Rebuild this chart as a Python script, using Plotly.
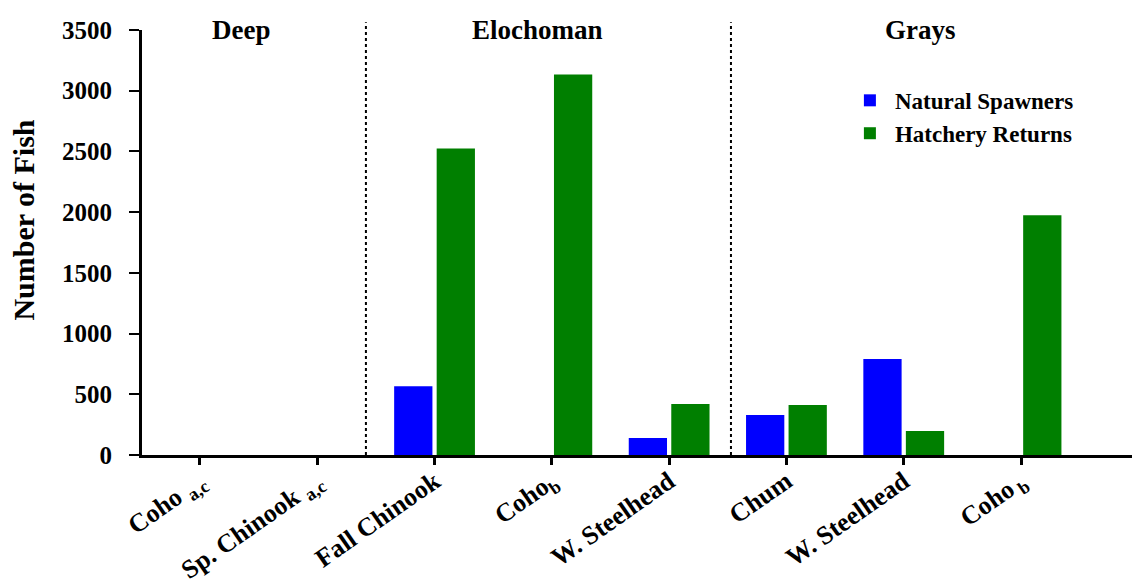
import plotly.graph_objects as go

# ---- data ----
categories = ["Coho <sub>a,c</sub>", "Sp. Chinook <sub>a,c</sub>", "Fall Chinook", "Coho<sub>b</sub>",
              "W. Steelhead", "Chum", "W. Steelhead", "Coho<sub> b</sub>"]
natural_spawners = [0, 0, 567, 0, 140, 329, 790, 0]
hatchery_returns = [0, 0, 2525, 3133, 419, 411, 197, 1974]
groups = ["Deep", "Elochoman", "Grays"]
group_label_pos = [0.35, 2.88, 6.14]
dividers = [1.415, 4.527]
y_ticks = [0, 500, 1000, 1500, 2000, 2500, 3000, 3500]

FONT = "Liberation Serif, Times New Roman, serif"
xs = list(range(len(categories)))

fig = go.Figure()
fig.add_trace(go.Bar(x=xs, y=natural_spawners, name="Natural Spawners",
                     marker=dict(color="#0000ff", line=dict(width=0))))
fig.add_trace(go.Bar(x=xs, y=hatchery_returns, name="Hatchery Returns",
                     marker=dict(color="#007f00", line=dict(width=0))))

shapes = []
for d in dividers:
    shapes.append(dict(type="line", xref="x", yref="paper", x0=d, x1=d, y0=0, y1=1.018,
                       line=dict(color="black", width=2, dash="dot"), layer="above"))

annotations = []
for g, p in zip(groups, group_label_pos):
    annotations.append(dict(text=g, x=p, xref="x", y=1.0, yref="paper", showarrow=False,
                            xanchor="center", yanchor="middle",
                            font=dict(family=FONT, size=27, color="black", weight="bold")))
annotations.append(dict(text="Number of Fish", x=-0.12, xref="paper", y=0.552, yref="paper",
                        showarrow=False, textangle=-90, xanchor="center", yanchor="middle",
                        font=dict(family=FONT, size=30, color="black", weight="bold")))

fig.update_layout(
    width=1132, height=586,
    margin=dict(l=142, r=0, t=30, b=131, autoexpand=False),
    paper_bgcolor="white", plot_bgcolor="white",
    barmode="group", bargap=0.275, bargroupgap=0.1,
    shapes=shapes, annotations=annotations,
    font=dict(family=FONT, color="black", weight="bold"),
    legend=dict(x=0.71, y=0.885, xanchor="left", yanchor="top",
                bgcolor="rgba(0,0,0,0)", font=dict(family=FONT, size=23, color="black", weight="bold"),
                tracegroupgap=0, itemwidth=40),
    xaxis=dict(range=[-0.494, 7.946], tickmode="array", tickvals=xs, ticktext=categories,
               tickangle=-35, tickfont=dict(family=FONT, size=26, color="black", weight="bold"),
               showline=True, linecolor="black", linewidth=3, ticks="outside", ticklen=7,
               tickwidth=3, tickcolor="black", showgrid=False, zeroline=False, fixedrange=True,
               automargin=False, ticklabelstandoff=-9),
    yaxis=dict(range=[0, 3500], tickmode="array", tickvals=y_ticks,
               tickfont=dict(family=FONT, size=25, color="black", weight="bold"),
               showline=True, linecolor="black", linewidth=3, ticks="outside", ticklen=10,
               tickwidth=2, tickcolor="black", showgrid=False, zeroline=False,
               ticklabelstandoff=12, automargin=False, fixedrange=True),
)

fig.write_html("out.html", config={"displayModeBar": False},
               post_script="document.body.style.margin='0';document.body.style.overflow='hidden';")
